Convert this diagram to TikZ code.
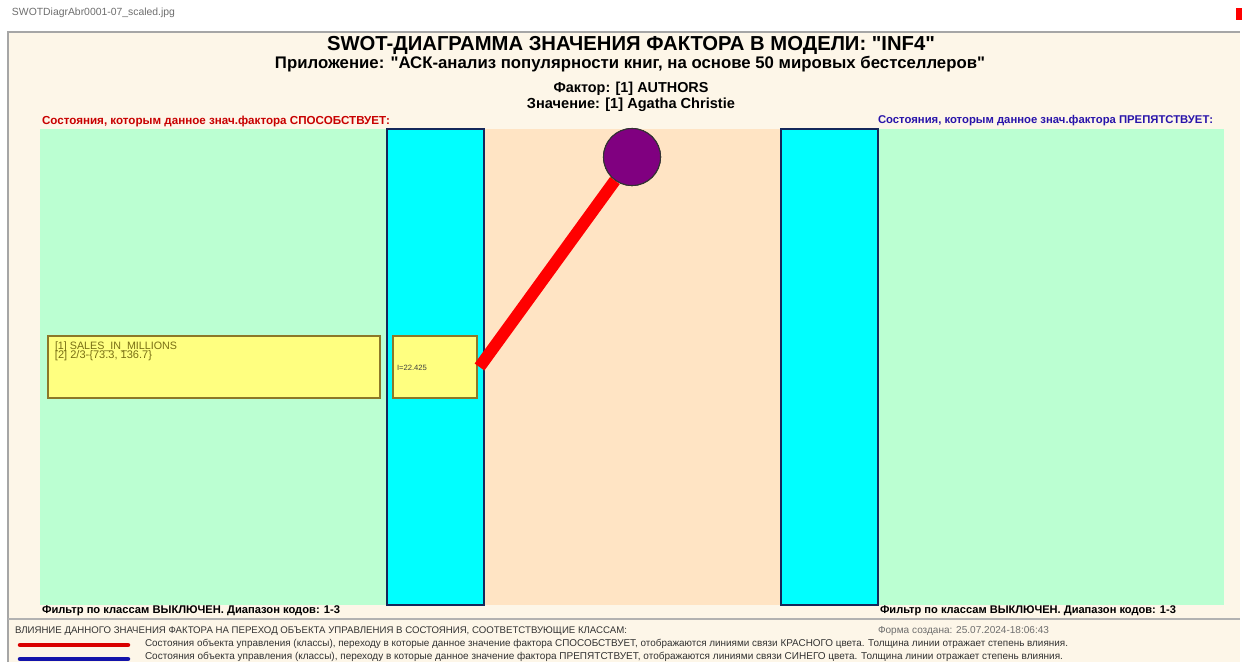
\documentclass[tikz,border=0pt]{standalone}
\usepackage{fontspec}
\setmainfont{Liberation Sans}[Ligatures=TeXOff]
\usepackage{graphicx}
\newlength{\pxu}\setlength{\pxu}{0.75pt}
\newcommand{\fw}[2]{\resizebox{#1\pxu}{!}{#2}}
\definecolor{bgc}{RGB}{253,246,232}
\definecolor{mint}{RGB}{187,255,210}
\definecolor{peach}{RGB}{255,228,196}
\definecolor{cyanc}{RGB}{0,255,255}
\definecolor{colborder}{RGB}{20,40,90}
\definecolor{ybox}{RGB}{255,255,128}
\definecolor{yborder}{RGB}{140,120,40}
\definecolor{olivetext}{RGB}{120,110,20}
\definecolor{purp}{RGB}{128,0,128}
\definecolor{redl}{RGB}{255,0,0}
\definecolor{redtxt}{RGB}{200,0,0}
\definecolor{bluetxt}{RGB}{40,20,170}
\definecolor{bluel}{RGB}{20,20,170}
\definecolor{graytxt}{RGB}{110,110,110}
\definecolor{legtxt}{RGB}{50,50,50}
\tikzset{
  txt/.style={inner sep=0pt, outer sep=0pt},
  colbox/.style={draw=colborder, fill=cyanc, line width=0.9pt},
  ybx/.style={draw=yborder, fill=ybox, line width=0.8pt},
}
\begin{document}
\begin{tikzpicture}[x=0.75pt,y=-0.75pt]
\useasboundingbox (0,0) rectangle (1245,662);
\fill[white] (0,0) rectangle (1245,662);
\fill[bgc] (8,32) rectangle (1240,662);
\draw[gray!70, line width=1pt] (8,662) -- (8,32) -- (1240,32);
\node[txt, anchor=west, text=graytxt] (fname) at (12,13) {\fw{163}{SWOTDiagrAbr0001-07\_scaled.jpg}};
\fill[redl] (1236,8) rectangle (1242,20);
% titles
\node[txt] (title) at (631,45) {\fw{608}{\bfseries SWOT-ДИАГРАММА ЗНАЧЕНИЯ ФАКТОРА В МОДЕЛИ: "INF4"}};
\node[txt] (sub) at (630,64) {\fw{710}{\bfseries Приложение: "АСК-анализ популярности книг, на основе 50 мировых бестселлеров"}};
\node[txt] (fact) at (631,89) {\fw{155}{\bfseries Фактор: [1] AUTHORS}};
\node[txt] (val) at (631,105) {\fw{208}{\bfseries Значение: [1] Agatha Christie}};
\node[txt, anchor=west, text=redtxt] (lablL) at (42,121) {\fw{348}{\bfseries Состояния, которым данное знач.фактора СПОСОБСТВУЕТ:}};
\node[txt, anchor=west, text=bluetxt] (lablR) at (878,121) {\fw{335}{\bfseries Состояния, которым данное знач.фактора ПРЕПЯТСТВУЕТ:}};
% panels
\fill[mint] (40,129) rectangle (387,605);
\fill[peach] (484,129) rectangle (781,605);
\fill[mint] (878,129) rectangle (1224,605);
\node[colbox, minimum width=97\pxu, minimum height=476\pxu, inner sep=0pt] (colL) at (435.5,367) {};
\node[colbox, minimum width=97\pxu, minimum height=476\pxu, inner sep=0pt] (colR) at (829.5,367) {};
% boxes
\node[ybx, minimum width=332\pxu, minimum height=62\pxu, inner sep=0pt] (cls) at (214,367) {};
\node[txt, anchor=west, text=olivetext] (cls1) at (55,347) {\fw{122}{[1] SALES\_IN\_MILLIONS}};
\node[txt, anchor=west, text=olivetext] (cls2) at (55,356) {\fw{97}{[2] 2/3-\{73.3, 136.7\}}};
\node[ybx, minimum width=84\pxu, minimum height=62\pxu, inner sep=0pt] (ibox) at (435,367) {};
\node[txt, anchor=west, text=black!75] (ival) at (397,368) {\fw{30}{I=22.425}};
% factor circle and link
\node[circle, draw=black!80, fill=purp, minimum size=57\pxu, inner sep=0pt, line width=0.8pt] (circ) at (632,157) {};
\draw[redl, line width=12\pxu] ([xshift=2\pxu]ibox.east) -- (circ);
\node[circle, draw=black!80, fill=purp, minimum size=57\pxu, inner sep=0pt, line width=0.8pt] at (circ) {};
% filters
\node[txt, anchor=west] (filtL) at (42,611) {\fw{298}{\bfseries Фильтр по классам ВЫКЛЮЧЕН. Диапазон кодов: 1-3}};
\node[txt, anchor=west] (filtR) at (880,611) {\fw{296}{\bfseries Фильтр по классам ВЫКЛЮЧЕН. Диапазон кодов: 1-3}};
\draw[gray!60, line width=1.5pt] (8,619) -- (1240,619);
% legend
\node[txt, anchor=west, text=legtxt] (lhead) at (15,631) {\fw{612}{ВЛИЯНИЕ ДАННОГО ЗНАЧЕНИЯ ФАКТОРА НА ПЕРЕХОД ОБЪЕКТА УПРАВЛЕНИЯ В СОСТОЯНИЯ, СООТВЕТСТВУЮЩИЕ КЛАССАМ:}};
\node[txt, anchor=west, text=graytxt] (date) at (878,631) {\fw{171}{Форма создана: 25.07.2024-18:06:43}};
\coordinate (r1) at (20,645); \coordinate (r2) at (128,645);
\coordinate (b1) at (20,659); \coordinate (b2) at (128,659);
\draw[redl!85!black, line width=4.5\pxu, line cap=round] (r1) -- (r2);
\draw[bluel, line width=4.5\pxu, line cap=round] (b1) -- (b2);
\node[txt, anchor=west, text=legtxt] (leg1) at (145,644) {\fw{923}{Состояния объекта управления (классы), переходу в которые данное значение фактора СПОСОБСТВУЕТ, отображаются линиями связи КРАСНОГО цвета. Толщина линии отражает степень влияния.}};
\node[txt, anchor=west, text=legtxt] (leg2) at (145,657) {\fw{918}{Состояния объекта управления (классы), переходу в которые данное значение фактора ПРЕПЯТСТВУЕТ, отображаются линиями связи СИНЕГО цвета. Толщина линии отражает степень влияния.}};
\end{tikzpicture}
\end{document}
